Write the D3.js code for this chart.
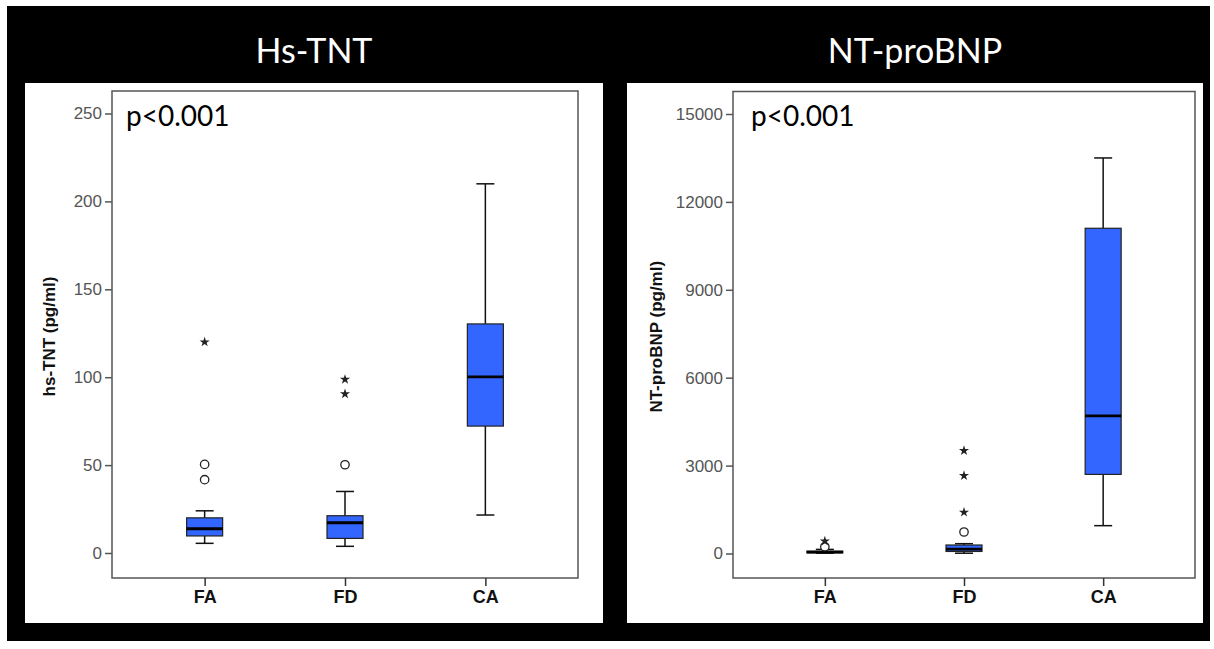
<!DOCTYPE html>
<html>
<head>
<meta charset="utf-8">
<script src="https://cdn.jsdelivr.net/npm/d3@7"></script>
<style>
  html, body { margin: 0; padding: 0; background: #ffffff; }
  svg { display: block; }
</style>
</head>
<body>
<svg id="chart" width="1214" height="649"></svg>
<script>
// ---------------- data ----------------
const categories = ["FA", "FD", "CA"];

// Hs-TNT: [lower whisker, Q1, median, Q3, upper whisker]
const tntBoxes = [
  [5.5, 9.7, 13.8, 20, 24],
  [3.8, 8.3, 17.2, 21.2, 35],
  [21.6, 72.2, 100.2, 130.3, 210]
];
const tntOutliers = [[41.7, 50.4], [50.2], []];     // circles
const tntExtremes = [[120], [90.5, 98.7], []];       // stars
const tntTicks = [0, 50, 100, 150, 200, 250];

// NT-proBNP
const bnpBoxes = [
  [10, 25, 45, 80, 140],
  [10, 70, 150, 290, 335],
  [950, 2700, 4700, 11100, 13500]
];
const bnpOutliers = [[230], [734], []];
const bnpExtremes = [[420], [1406, 2655, 3509], []];
const bnpTicks = [0, 3000, 6000, 9000, 12000, 15000];

const panels = [
  { title: "Hs-TNT", ylabel: "hs-TNT (pg/ml)", boxes: tntBoxes, outliers: tntOutliers, extremes: tntExtremes,
    ticks: tntTicks, domain: [0, 250],
    bg: [25, 83, 603, 623], frame: [112, 91, 578, 578], y0: 553, yTop: 113.5, titleX: 314, labelX: 55, pX: 126 },
  { title: "NT-proBNP", ylabel: "NT-proBNP (pg/ml)", boxes: bnpBoxes, outliers: bnpOutliers, extremes: bnpExtremes,
    ticks: bnpTicks, domain: [0, 15000],
    bg: [627, 83, 1203, 623], frame: [733, 91.5, 1195, 578], y0: 553.5, yTop: 114, titleX: 915, labelX: 662, pX: 751 }
];

// ---------------- drawing ----------------
const svg = d3.select("#chart");
svg.append("rect").attr("x", 7).attr("y", 6).attr("width", 1203).attr("height", 635).attr("fill", "#000");

const boxFill = "#3366ff";
const boxW = 36, capW = 18;

panels.forEach(p => {
  const [bx0, by0, bx1, by1] = p.bg;
  const [fx0, fy0, fx1, fy1] = p.frame;
  const g = svg.append("g");

  g.append("rect").attr("x", bx0).attr("y", by0).attr("width", bx1 - bx0).attr("height", by1 - by0).attr("fill", "#fff");

  // title
  svg.append("text").attr("x", p.titleX).attr("y", 63).attr("text-anchor", "middle")
    .attr("fill", "#fff").attr("font-family", "Lato, 'Open Sans', sans-serif").attr("font-size", 34)
    .text(p.title);

  const x = d3.scalePoint().domain(categories).range([fx0, fx1]).padding(0.66);
  const y = d3.scaleLinear().domain(p.domain).range([p.y0, p.yTop]);

  // frame
  g.append("rect").attr("x", fx0).attr("y", fy0).attr("width", fx1 - fx0).attr("height", fy1 - fy0)
    .attr("fill", "none").attr("stroke", "#555").attr("stroke-width", 1.5);

  // y axis
  const yAxis = d3.axisLeft(y).tickValues(p.ticks).tickSize(7).tickPadding(3).tickFormat(d3.format("d"));
  const ya = g.append("g").attr("transform", `translate(${fx0},0)`).call(yAxis);
  ya.select(".domain").remove();
  ya.selectAll(".tick line").attr("stroke", "#555").attr("stroke-width", 1.5);
  ya.selectAll(".tick text").attr("fill", "#555").attr("font-family", "Arial, 'Liberation Sans', sans-serif")
    .attr("font-size", 17);

  // x axis
  const xAxis = d3.axisBottom(x).tickSize(8).tickPadding(4);
  const xa = g.append("g").attr("transform", `translate(0,${fy1})`).call(xAxis);
  xa.select(".domain").remove();
  xa.selectAll(".tick line").attr("stroke", "#333").attr("stroke-width", 1.5);
  xa.selectAll(".tick text").attr("fill", "#111").attr("font-family", "Arial, 'Liberation Sans', sans-serif")
    .attr("font-size", 18).attr("font-weight", "bold");

  // y label
  g.append("text").attr("transform", `translate(${p.labelX},${(fy0 + fy1) / 2 + 2}) rotate(-90)`)
    .attr("text-anchor", "middle").attr("font-family", "Arial, 'Liberation Sans', sans-serif")
    .attr("font-size", 17).attr("font-weight", "bold").attr("fill", "#111").text(p.ylabel);

  // p-value
  g.append("text").attr("x", p.pX).attr("y", 126).attr("font-family", "Lato, 'Open Sans', sans-serif")
    .attr("font-size", 28).attr("fill", "#000").text("p<0.001");

  // boxes
  categories.forEach((c, i) => {
    const [lo, q1, med, q3, hi] = p.boxes[i];
    const cx = x(c);
    const bg = g.append("g");
    // whiskers
    bg.append("line").attr("x1", cx).attr("x2", cx).attr("y1", y(hi)).attr("y2", y(q3)).attr("stroke", "#111").attr("stroke-width", 1.5);
    bg.append("line").attr("x1", cx).attr("x2", cx).attr("y1", y(q1)).attr("y2", y(lo)).attr("stroke", "#111").attr("stroke-width", 1.5);
    bg.append("line").attr("x1", cx - capW / 2).attr("x2", cx + capW / 2).attr("y1", y(hi)).attr("y2", y(hi)).attr("stroke", "#111").attr("stroke-width", 1.5);
    bg.append("line").attr("x1", cx - capW / 2).attr("x2", cx + capW / 2).attr("y1", y(lo)).attr("y2", y(lo)).attr("stroke", "#111").attr("stroke-width", 1.5);
    // box
    bg.append("rect").attr("x", cx - boxW / 2).attr("y", y(q3)).attr("width", boxW).attr("height", Math.max(0.5, y(q1) - y(q3)))
      .attr("fill", boxFill).attr("stroke", "#222").attr("stroke-width", 1.2);
    // median
    bg.append("line").attr("x1", cx - boxW / 2).attr("x2", cx + boxW / 2).attr("y1", y(med)).attr("y2", y(med))
      .attr("stroke", "#000").attr("stroke-width", 2.8);
    // outliers
    p.outliers[i].forEach(v => {
      bg.append("circle").attr("cx", cx).attr("cy", y(v)).attr("r", 4.2)
        .attr("fill", "#fff").attr("stroke", "#222").attr("stroke-width", 1.3);
    });
    p.extremes[i].forEach(v => {
      bg.append("path").attr("d", d3.symbol().type(d3.symbolStar).size(32)())
        .attr("transform", `translate(${cx},${y(v)})`).attr("fill", "#222");
    });
  });
});
</script>
</body>
</html>
